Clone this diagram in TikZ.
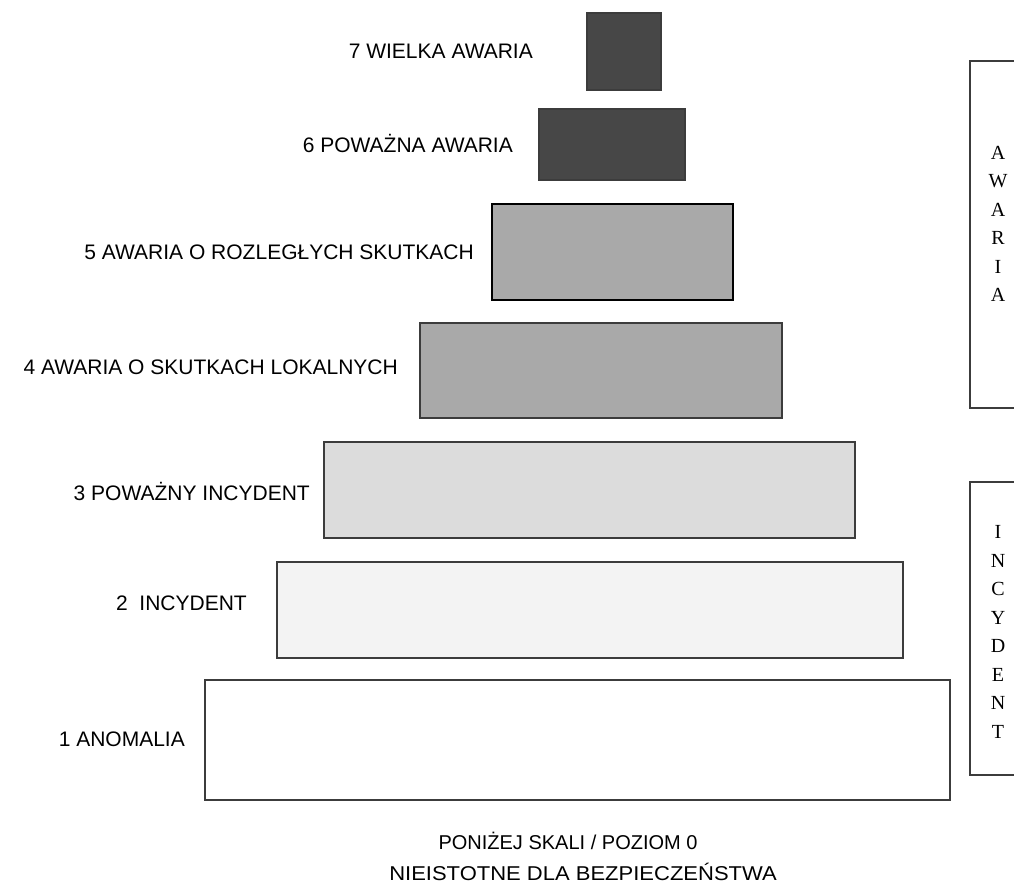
\documentclass[tikz,border=0pt]{standalone}
\usepackage{fontspec}
\setmainfont{Liberation Sans}
\newfontfamily\serifletters{Liberation Serif}
\definecolor{lvdark}{HTML}{474747}
\definecolor{lvmid}{HTML}{A9A9A9}
\definecolor{lvlight}{HTML}{DCDCDC}
\definecolor{lvpale}{HTML}{F3F3F3}
\definecolor{edgegray}{HTML}{3C3C3C}
\begin{document}
\begin{tikzpicture}[x=1pt,y=-1pt,
  lvbox/.style={draw=edgegray,line width=1.4pt},
  lvlabel/.style={font=\fontsize{21}{25}\selectfont,anchor=east,inner sep=0pt},
  bottomtxt/.style={font=\fontsize{20}{25}\selectfont,inner sep=0pt},
  sidelbl/.style={font=\serifletters\fontsize{20}{28.5}\selectfont,align=center,inner sep=0pt}]
\useasboundingbox (0,0) rectangle (1014,886);
\fill[white] (0,0) rectangle (1014,886);
% levels
\draw[lvbox,fill=lvdark] (587,13) rectangle (661,90) node[pos=.5] (b7) {};
\draw[lvbox,fill=lvdark] (539,109) rectangle (685,180) node[pos=.5] (b6) {};
\draw[lvbox,draw=black,line width=1.8pt,fill=lvmid] (492,204) rectangle (733,300) node[pos=.5] (b5) {};
\draw[lvbox,fill=lvmid] (420,323) rectangle (782,418) node[pos=.5] (b4) {};
\draw[lvbox,fill=lvlight] (324,442) rectangle (855,538) node[pos=.5] (b3) {};
\draw[lvbox,fill=lvpale] (277,562) rectangle (903,658) node[pos=.5] (b2) {};
\draw[lvbox,fill=white] (205,680) rectangle (950,800) node[pos=.5] (b1) {};
% labels
\node[lvlabel] (l7) at (533,51) {7 WIELKA AWARIA};
\node[lvlabel] (l6) at (513,143) {6 POWAŻNA AWARIA};
\node[lvlabel] (l5) at (474,252) {5 AWARIA O ROZLEGŁYCH SKUTKACH};
\node[lvlabel] (l4) at (398,367) {4 AWARIA O SKUTKACH LOKALNYCH};
\node[lvlabel] (l3) at (310,491) {3 POWAŻNY INCYDENT};
\node[lvlabel] (l2) at (247,603) {2\ \ INCYDENT};
\node[lvlabel] (l1) at (185,739) {1 ANOMALIA};
% side brackets (cut by the page edge)
\begin{scope}
\clip (0,0) rectangle (1014,886);
\draw[draw=edgegray,line width=1.2pt] (1030,61) -- (970,61) -- (970,408) -- (1030,408);
\draw[draw=edgegray,line width=1.2pt] (1030,482) -- (970,482) -- (970,775) -- (1030,775);
\end{scope}
\node[sidelbl] (aw) at (998,224) {A\\W\\A\\R\\I\\A};
\node[sidelbl] (inc) at (998,632) {I\\N\\C\\Y\\D\\E\\N\\T};
% bottom
\node[bottomtxt] (p0) at (568,841) {PONIŻEJ SKALI / POZIOM 0};
\node[bottomtxt] (ni) at (583,872) {\scalebox{1.1}[1]{NIEISTOTNE DLA BEZPIECZEŃSTWA}};
\end{tikzpicture}
\end{document}
